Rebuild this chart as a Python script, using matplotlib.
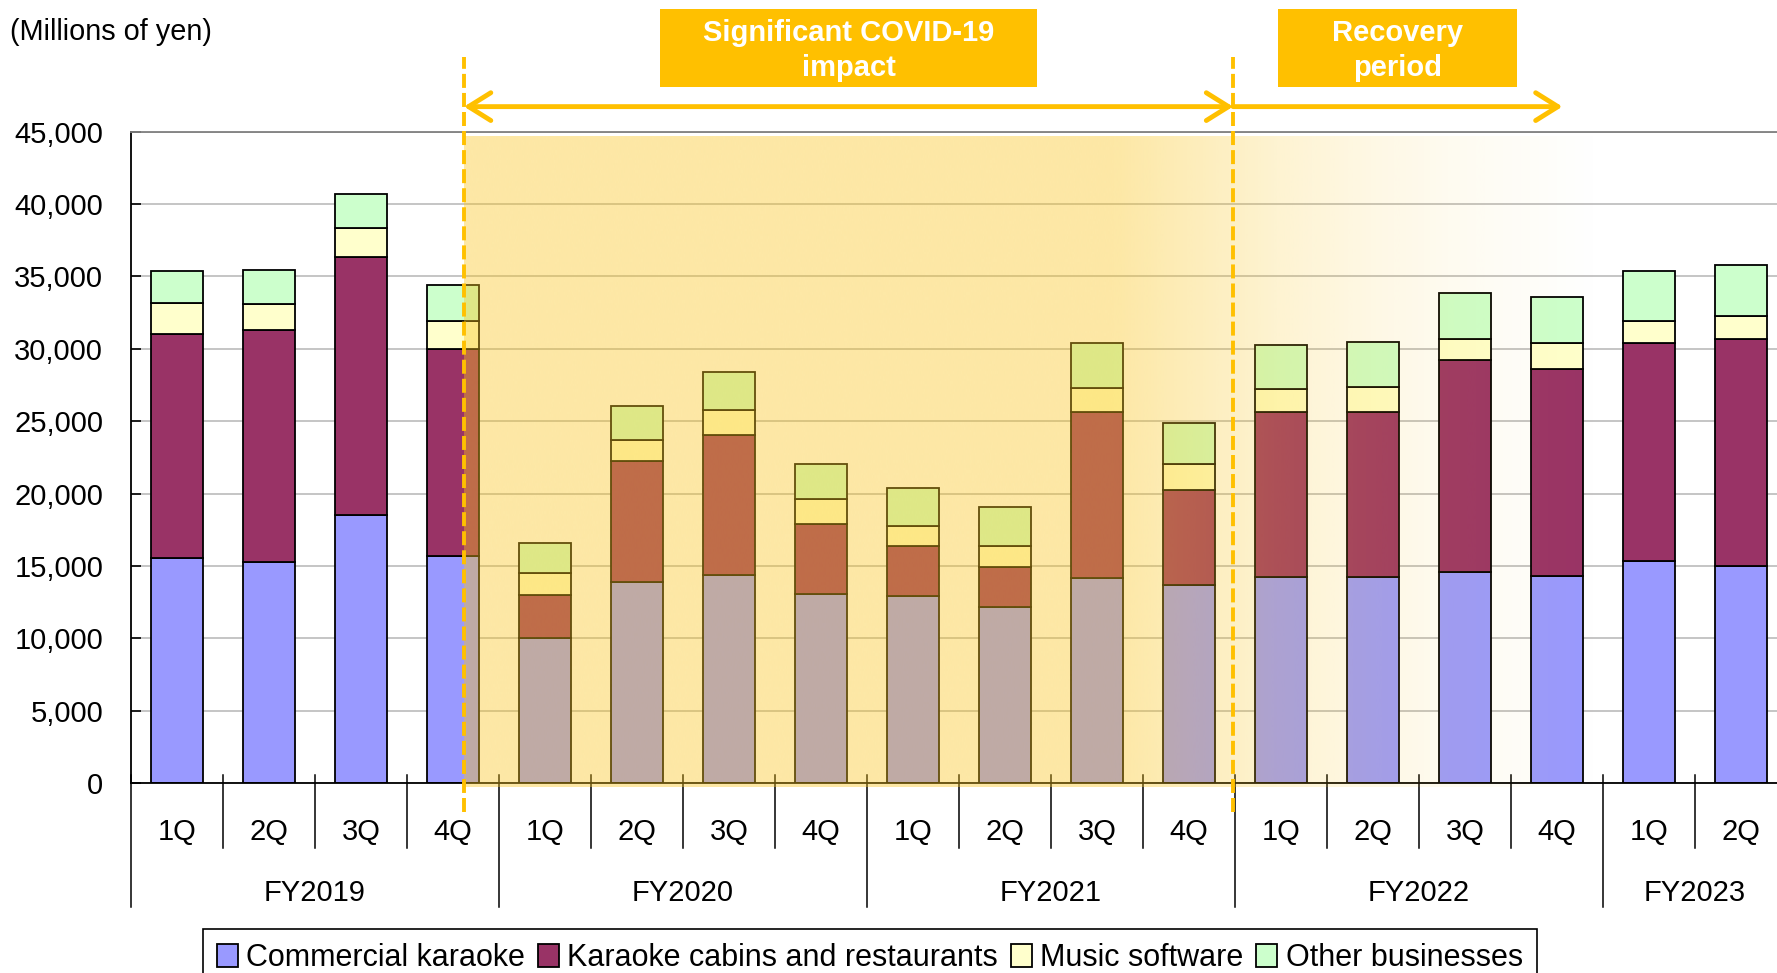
import numpy as np
import matplotlib.pyplot as plt
from matplotlib.patches import Rectangle
from matplotlib.ticker import FuncFormatter

plt.rcParams['font.family'] = ['Liberation Sans', 'DejaVu Sans']

# quarterly net sales by segment (millions of yen)
quarters = ['1Q', '2Q', '3Q', '4Q'] * 4 + ['1Q', '2Q']
fiscal_years = ['FY2019', 'FY2020', 'FY2021', 'FY2022', 'FY2023']
commercial = [15550, 15300, 18500, 15700, 10000, 13900, 14350, 13050,
              12900, 12150, 14150, 13700, 14250, 14250, 14600, 14300, 15350, 15000]
cabins = [15500, 16000, 17850, 14300, 3000, 8350, 9700, 4850,
          3500, 2800, 11500, 6550, 11400, 11400, 14600, 14300, 15050, 15700]
music = [2100, 1800, 2000, 1900, 1500, 1450, 1750, 1750,
         1400, 1450, 1650, 1800, 1600, 1700, 1450, 1800, 1550, 1600]
other = [2250, 2350, 2350, 2500, 2100, 2350, 2600, 2400,
         2600, 2700, 3100, 2800, 3050, 3100, 3200, 3200, 3400, 3500]
series_names = ['Commercial karaoke', 'Karaoke cabins and restaurants',
                'Music software', 'Other businesses']
series_colors = ['#9999FF', '#993366', '#FFFFCC', '#CCFFCC']

# period boundaries on the category axis
covid_start, covid_end, recovery_end = 3.12, 11.48, 15.06
accent = '#FFC000'

fig = plt.figure(figsize=(17.77, 9.73), dpi=100)
ax = fig.add_axes([0.0737, 0.195, 0.9319, 0.6697])

x = np.arange(len(quarters))
bottom = np.zeros(len(x))
for vals, name, col in zip([commercial, cabins, music, other], series_names, series_colors):
    ax.bar(x, vals, width=0.56, bottom=bottom, color=col, edgecolor='black',
           linewidth=1.3, label=name, zorder=2)
    bottom += np.array(vals)

# fading highlight over the COVID period
gx = np.linspace(covid_start, 15.5, 800)
alpha = np.interp(gx, [covid_start, 10.2, 12.0, 13.0, 14.0, 15.5],
                  [0.4, 0.4, 0.2, 0.12, 0.06, 0.0])
shade = np.zeros((1, gx.size, 4))
shade[..., :3] = np.array([250, 197, 30]) / 255
shade[..., 3] = alpha
img = ax.imshow(shade, extent=(covid_start, 15.5, -280, 44650), aspect='auto',
                interpolation='bilinear', zorder=3)
img.set_clip_on(False)

ax.set_xlim(-0.5, len(quarters) - 0.5)
ax.set_ylim(0, 45000)
ax.set_yticks(np.arange(0, 45001, 5000))
ax.yaxis.set_major_formatter(FuncFormatter(lambda v, p: f'{v:,.0f}'))
ax.tick_params(axis='y', direction='in', length=7, width=1.2, pad=20, labelsize=21)
ax.set_xticks([])
ax.set_axisbelow(True)
ax.yaxis.grid(True, color='#C0C0C0', lw=1.3)
ax.spines['right'].set_visible(False)
ax.spines['top'].set_color('#808080')
ax.spines['top'].set_linewidth(1.3)
for s in ['left', 'bottom']:
    ax.spines[s].set_linewidth(1.3)

# two-level category axis
xt = ax.get_xaxis_transform()
for k in range(len(quarters) + 1):
    b = k - 0.5
    low = -0.1894 if k % 4 == 0 else -0.0988
    ax.plot([b, b], [0.0127, low], transform=xt, color='black', lw=1.1, clip_on=False)
for i, q in enumerate(quarters):
    ax.text(i, -0.075, q, transform=xt, ha='center', va='center', fontsize=21)
for j, fy in enumerate(fiscal_years):
    n = min(4, len(quarters) - 4 * j)
    ax.text(4 * j + (n - 1) / 2, -0.168, fy, transform=xt, ha='center',
            va='center', fontsize=21)

# period markers
for xv in [covid_start, covid_end]:
    ax.axvline(xv, ymin=-0.0436, ymax=1.1151, color=accent, lw=2.8,
               ls=(0, (3.6, 1.3)), clip_on=False, zorder=4)

arrow_y = 1.0384
ax.annotate('', xy=(covid_end, arrow_y), xytext=(covid_start, arrow_y),
            xycoords=xt, textcoords=xt, annotation_clip=False,
            arrowprops=dict(arrowstyle='<->,head_length=0.4,head_width=0.25', color=accent,
                            lw=3.5, mutation_scale=40, shrinkA=0, shrinkB=0))
ax.annotate('', xy=(recovery_end, arrow_y), xytext=(covid_end, arrow_y),
            xycoords=xt, textcoords=xt, annotation_clip=False,
            arrowprops=dict(arrowstyle='->,head_length=0.4,head_width=0.25', color=accent,
                            lw=3.5, mutation_scale=40, shrinkA=0, shrinkB=0))

box_lo, box_hi = 1.0691, 1.1883
for (x0, x1), w, label in [((covid_start, covid_end), 4.09, 'Significant COVID-19\nimpact'),
                           ((covid_end, recovery_end), 2.6, 'Recovery\nperiod')]:
    cx = (x0 + x1) / 2
    ax.add_patch(Rectangle((cx - w / 2, box_lo), w, box_hi - box_lo, transform=xt,
                           facecolor=accent, edgecolor='none', clip_on=False))
    ax.text(cx, (box_lo + box_hi) / 2 - 0.004, label, transform=xt, ha='center',
            va='center', color='white', fontsize=21, fontweight='bold', linespacing=1.32)

fig.text(0.0058, 1 - 32 / 973, '(Millions of yen)', ha='left', va='center', fontsize=20.8)

handles, labels = ax.get_legend_handles_labels()
leg = fig.legend(handles, labels, loc='upper left', bbox_to_anchor=(0.1144, 0.0449),
                 ncol=4, fontsize=22, frameon=True, fancybox=False, edgecolor='black',
                 framealpha=1, handlelength=0.68, handleheight=0.75, handletextpad=0.28,
                 columnspacing=0.42, borderpad=0.45, borderaxespad=0)
leg.get_frame().set_linewidth(1.2)

fig.savefig('out.png', dpi=100)
